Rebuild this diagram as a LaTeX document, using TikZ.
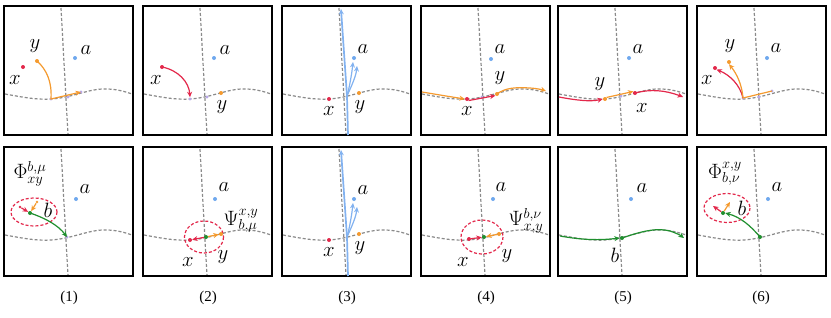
\documentclass[tikz,border=0pt]{standalone}
\usepackage{fontspec}
\setmainfont{Liberation Serif}
\usetikzlibrary{arrows.meta}
\definecolor{cred}{HTML}{E3284B}
\definecolor{corange}{HTML}{F59A2E}
\definecolor{cblue}{HTML}{82B2F0}
\definecolor{cadot}{HTML}{6FA8EE}
\definecolor{cgreen}{HTML}{1F8F2E}
\definecolor{cgray}{HTML}{8A8A8A}
\definecolor{cpurp}{HTML}{B8A8E8}
\tikzset{
  panelbox/.style={draw=black, line width=1.4pt},
  guide/.style={draw=cgray, dash pattern=on 3pt off 2pt, line width=1.2pt},
  arr/.style={-{Stealth[length=5.5pt,width=5pt]}, line width=1.2pt},
  lbl/.style={font=\fontsize{22}{22}\selectfont, inner sep=0pt},
  lblsm/.style={font=\fontsize{20}{20}\selectfont, inner sep=0pt},
  captxt/.style={font=\fontsize{15}{15}\selectfont, inner sep=0pt},
  rdot/.style={circle, fill=cred, inner sep=0pt, minimum size=4pt},
  odot/.style={circle, fill=corange, inner sep=0pt, minimum size=4pt},
  adot/.style={circle, fill=cadot, inner sep=0pt, minimum size=4pt},
  gdot/.style={circle, fill=cgreen, inner sep=0pt, minimum size=4pt},
  pdot/.style={circle, fill=cpurp, inner sep=0pt, minimum size=3.2pt},
  ring/.style={draw=cred, dash pattern=on 3pt off 2pt, line width=1.2pt},
}
\newcommand\panelbg[2]{%
  \begin{scope}[shift={(#1,#2)}]
    \draw[guide] (57,8) -- (64,135);
    \draw[guide] (1,94) .. controls (18,97) and (32,100) .. (47,99)
      .. controls (70,97.5) and (85,88) .. (104,89)
      .. controls (115,89.5) and (122,92) .. (128,94);
    \draw[panelbox] (0,6) rectangle (129,135);
  \end{scope}}
\begin{document}
\begin{tikzpicture}[x=1pt,y=-1pt]
\useasboundingbox (0,0) rectangle (831,317);
\fill[white] (0,0) rectangle (831,317);
% backgrounds
\foreach \L in {4,143,282,421,558,697}{\panelbg{\L}{0}\panelbg{\L}{141}}

% ---------- top row ----------
% panel 1
\node[pdot] (p1a) at (51,99) {};
\node[pdot] (p1b) at (68,97) {};
\node[pdot] (p1c) at (81,92) {};
\node[adot] (a1) at (75,58) {};
\node[rdot] (x1) at (23,67) {};
\node[odot] (y1) at (37,61) {};
\node[lbl] (la1) at (86,50) {$a$};
\node[lbl] (lx1) at (15,80) {$x$};
\node[lbl] (ly1) at (35,46) {$y$};
\draw[arr, corange] (y1.center) .. controls (47,70) and (52,82) .. (p1a.center) -- (p1c.center);

% panel 2
\node[pdot] (p2a) at (190,99) {};
\node[pdot] (p2b) at (207,97) {};
\node[adot] (a2) at (214,58) {};
\node[rdot] (x2) at (162,67) {};
\node[odot] (y2) at (221,93) {};
\node[lbl] (la2) at (225,50) {$a$};
\node[lbl] (lx2) at (156,80) {$x$};
\node[lbl] (ly2) at (222,107) {$y$};
\draw[arr, cred] (x2.center) .. controls (178,70) and (189,82) .. (p2a.north);

% panel 3 (top and bottom identical)
\foreach \T/\s in {0/t,141/b}{
\begin{scope}[shift={(0,\T)}]
\node[adot] (a3\s) at (354,58) {};
\node[rdot] (x3\s) at (329,99) {};
\node[odot] (y3\s) at (359,93) {};
\node[lbl] (la3\s) at (363,49) {$a$};
\node[lbl] (lx3\s) at (329,111) {$x$};
\node[lbl] (ly3\s) at (360,107) {$y$};
\coordinate (c3\s) at (347,96);
\coordinate (bot3\s) at (348,135);
\coordinate (top3\s) at (341,9);
\draw[arr, cblue, line width=1.7pt] (bot3\s) -- (c3\s) -- (top3\s);
\draw[arr, cblue] (c3\s) .. controls (350,85) and (352,72) .. (353,62);
\draw[arr, cblue] (c3\s) .. controls (352,85) and (356,76) .. (357,66);
\end{scope}}

% panel 4
\node[pdot] (p4a) at (482,97) {};
\node[adot] (a4) at (491,59) {};
\node[rdot] (x4) at (467,99) {};
\node[odot] (y4) at (497,94) {};
\node[lbl] (la4) at (500,49) {$a$};
\node[lbl] (lx4) at (467,111) {$x$};
\node[lbl] (ly4) at (500,78) {$y$};
\coordinate (o4s) at (422,92);
\coordinate (o4e) at (546,91);
\draw[arr, corange] (o4s) .. controls (440,95) and (452,97) .. (x4.west);
\draw[arr, corange] (y4.center) .. controls (505,88) and (515,87) .. (530,88) .. controls (538,88.5) and (543,90) .. (o4e);
\draw[arr, cred] (x4.south east) -- (y4.south west);

% panel 5
\node[pdot] (p5a) at (621,96) {};
\node[adot] (a5) at (629,58) {};
\node[rdot] (x5) at (635,93) {};
\node[odot] (y5) at (605,99) {};
\node[lbl] (la5) at (638,49) {$a$};
\node[lbl] (lx5) at (642,108) {$x$};
\node[lbl] (ly5) at (600,84) {$y$};
\coordinate (r5s) at (559,97);
\coordinate (r5e) at (683,97);
\draw[arr, cred] (r5s) .. controls (575,100) and (590,102) .. (y5.west);
\draw[arr, cred] (x5.center) .. controls (650,89) and (665,90) .. (r5e);
\draw[arr, corange] (y5.north east) -- (x5.north west);

% panel 6
\node[pdot] (p6a) at (743,98) {};
\node[pdot] (p6b) at (759,97) {};
\node[pdot] (p6c) at (772,91) {};
\node[adot] (a6) at (767,58) {};
\node[rdot] (x6) at (715,68) {};
\node[odot] (y6) at (729,62) {};
\node[lbl] (la6) at (776,48) {$a$};
\node[lbl] (lx6) at (707,80) {$x$};
\node[lbl] (ly6) at (730,46) {$y$};
\draw[arr, cred] (p6a.center) .. controls (740,85) and (730,75) .. (x6.south east);
\draw[arr, corange] (p6c.center) -- (p6a.center) .. controls (742,85) and (737,74) .. (y6.south);

% ---------- bottom row ----------
% panel 1
\node[pdot] (q1a) at (67,237) {};
\node[adot] (a1b) at (76,199) {};
\node[lbl] (la1b) at (85,189) {$a$};
\node[lblsm] (phi1) at (30,174) {$\Phi^{b,\mu}_{xy}$};
\draw[ring] (34,212) ellipse [x radius=23, y radius=14];
\node[gdot] (b1) at (30,213) {};
\node[lbl] (lb1) at (48,210) {$b$};
\node[rdot, minimum size=2.8pt] (x1b) at (20,207) {};
\node[odot, minimum size=2.8pt] (y1b) at (37,202) {};
\draw[arr, cred] (x1b) -- (b1);
\draw[arr, corange] (y1b) -- (b1);
\draw[arr, cgreen] (b1.center) .. controls (45,218) and (58,225) .. (q1a.center);

% panel 2
\node[adot] (a2b) at (215,199) {};
\node[lbl] (la2b) at (224,187) {$a$};
\node[lblsm] (psi2) at (241,221) {$\Psi^{x,y}_{b,\mu}$};
\draw[ring] (204,237) ellipse [x radius=19.5, y radius=16];
\node[rdot] (x2b) at (190,240) {};
\node[odot] (y2b) at (221,234) {};
\node[gdot] (b2) at (206,237) {};
\draw[arr, cred] (b2) -- (x2b);
\draw[arr, corange] (b2) -- (y2b);
\node[lbl] (lx2b) at (188,262) {$x$};
\node[lbl] (ly2b) at (223,257) {$y$};

% panel 4
\node[adot] (a4b) at (493,199) {};
\node[lbl] (la4b) at (501,187) {$a$};
\node[lblsm] (psi4) at (526,221) {$\Psi^{b,\nu}_{x,y}$};
\draw[ring] (482,237) ellipse [x radius=21, y radius=17];
\node[rdot] (x4b) at (469,239) {};
\node[odot] (y4b) at (499,234) {};
\node[gdot] (b4) at (484,237) {};
\draw[arr, cred] (x4b) -- (b4);
\draw[arr, corange] (y4b) -- (b4);
\node[lbl] (lx4b) at (463,262) {$x$};
\node[lbl] (ly4b) at (507,256) {$y$};

% panel 5
\node[adot] (a5b) at (631,199) {};
\node[lbl] (la5b) at (642,188) {$a$};
\node[gdot] (b5) at (622,238) {};
\node[lbl] (lb5) at (615,255) {$b$};
\coordinate (g5s) at (560,236);
\coordinate (g5e) at (684,238);
\draw[arr, cgreen] (g5s) .. controls (577,239) and (595,241) .. (b5.west);
\draw[arr, cgreen] (b5.center) .. controls (645,230) and (658,228) .. (670,231) .. controls (676,233) and (680,235) .. (g5e);

% panel 6
\node[adot] (a6b) at (768,199) {};
\node[lbl] (la6b) at (777,187) {$a$};
\node[lblsm] (phi6) at (725,174) {$\Phi^{x,y}_{b,\nu}$};
\draw[ring] (727,208) ellipse [x radius=23, y radius=14.5];
\node[gdot] (g6) at (760,237) {};
\node[gdot] (b6) at (723,213) {};
\node[lbl] (lb6) at (742,208) {$b$};
\coordinate (x6b) at (713,206);
\coordinate (y6b) at (730,202);
\draw[arr, cred] (b6) -- (x6b);
\draw[arr, corange] (b6) -- (y6b);
\draw[arr, cgreen] (g6.center) .. controls (750,225) and (740,217) .. (b6.east);

% captions
\node[captxt] (k1) at (69,298) {(1)};
\node[captxt] (k2) at (208,298) {(2)};
\node[captxt] (k3) at (347,298) {(3)};
\node[captxt] (k4) at (486,298) {(4)};
\node[captxt] (k5) at (623,298) {(5)};
\node[captxt] (k6) at (761,298) {(6)};
\end{tikzpicture}
\end{document}
